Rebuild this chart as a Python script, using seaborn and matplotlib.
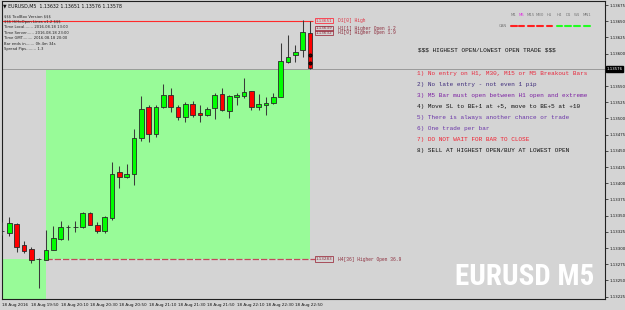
import numpy as np
import pandas as pd
import matplotlib
matplotlib.use("Agg")
import matplotlib.pyplot as plt
import matplotlib.transforms as mtransforms
from matplotlib.patches import Rectangle
from matplotlib.lines import Line2D
from matplotlib import font_manager
import seaborn as sns

# ---------------- data ----------------
bar_start = "2016-08-18 19:30"
opens  = [1.13326, 1.13324, 1.13337, 1.13304, 1.13299, 1.13283, 1.13282, 1.13297, 1.13314, 1.13332,
          1.13332, 1.13332, 1.13354, 1.13336, 1.13327, 1.13346, 1.13417, 1.13409, 1.13415, 1.13470,
          1.13517, 1.13476, 1.13518, 1.13536, 1.13518, 1.13502, 1.13522, 1.13508, 1.13506, 1.13516,
          1.13537, 1.13512, 1.13533, 1.13535, 1.13542, 1.13518, 1.13520, 1.13524, 1.13533, 1.13587,
          1.13598, 1.13606, 1.13632]
highs  = [1.13340, 1.13348, 1.13338, 1.13311, 1.13301, 1.13284, 1.13328, 1.13334, 1.13342, 1.13336,
          1.13342, 1.13356, 1.13355, 1.13341, 1.13349, 1.13433, 1.13427, 1.13429, 1.13484, 1.13534,
          1.13520, 1.13520, 1.13553, 1.13547, 1.13521, 1.13526, 1.13527, 1.13521, 1.13518, 1.13539,
          1.13547, 1.13536, 1.13539, 1.13563, 1.13543, 1.13537, 1.13533, 1.13540, 1.13616, 1.13629,
          1.13613, 1.13652, 1.13651]
lows   = [1.13320, 1.13318, 1.13294, 1.13292, 1.13277, 1.13238, 1.13282, 1.13297, 1.13312, 1.13312,
          1.13325, 1.13331, 1.13335, 1.13323, 1.13323, 1.13343, 1.13392, 1.13408, 1.13397, 1.13465,
          1.13464, 1.13472, 1.13516, 1.13510, 1.13498, 1.13495, 1.13502, 1.13495, 1.13503, 1.13499,
          1.13512, 1.13500, 1.13521, 1.13531, 1.13513, 1.13513, 1.13506, 1.13522, 1.13533, 1.13585,
          1.13587, 1.13595, 1.13576]
closes = [1.13326, 1.13338, 1.13301, 1.13296, 1.13282, 1.13283, 1.13297, 1.13315, 1.13332, 1.13332,
          1.13332, 1.13354, 1.13335, 1.13327, 1.13348, 1.13415, 1.13409, 1.13415, 1.13470, 1.13514,
          1.13476, 1.13518, 1.13536, 1.13518, 1.13502, 1.13522, 1.13506, 1.13506, 1.13514, 1.13536,
          1.13513, 1.13534, 1.13536, 1.13541, 1.13518, 1.13522, 1.13524, 1.13533, 1.13588, 1.13595,
          1.13603, 1.13633, 1.13578]

bid = 1.13576
d1_high = 1.13651
h1_open_prev = 1.13639
h1_open_cur = 1.13632
h4_open = 1.13283
h4_open_bar = 6
arrow_prices = [1.13598, 1.13585]

price_ticks = [1.13675, 1.13650, 1.13625, 1.13600, 1.13550, 1.13525, 1.13500, 1.13475,
               1.13450, 1.13425, 1.13400, 1.13375, 1.13350, 1.13325, 1.13300, 1.13275,
               1.13250, 1.13225]
time_tick_bars = [0, 4, 8, 12, 16, 20, 24, 28, 32, 36, 40]

title_line = "\u25BC EURUSD,M5  1.13632 1.13651 1.13576 1.13578"
info_lines = ["$$$ ToolBox Version $$$",
              "$$$ HiHoOpen Lines v1.2 $$$",
              "Time Local....... 2016.08.18 13:00",
              "Time Server...... 2016.08.18 23:00",
              "Time GMT........ 2016.08.18 20:00",
              "Bar ends in....... 0h 4m 34s",
              "Spread Pips........ 1.3"]
header = "$$$ HIGHEST OPEN/LOWEST OPEN TRADE $$$"
rules = ["1) No entry on H1, M30, M15 or M5 Breakout Bars",
         "2) No late entry - not even 1 pip",
         "3) M5 Bar must open between H1 open and extreme",
         "4) Move SL to BE+1 at +5, move to BE+5 at +10",
         "5) There is always another chance or trade",
         "6) One trade per bar",
         "7) DO NOT WAIT FOR BAR TO CLOSE",
         "8) SELL AT HIGHEST OPEN/BUY AT LOWEST OPEN"]
rule_colors = ["#e8283c", "#3d2b7a", "#7b1fa2", "#111111", "#6a35a8", "#6a35a8", "#f02030", "#111111"]
tf_labels = ["M1", "M5", "M15", "M30", "H1", "H4", "D1", "W1", "MN1"]
tf_trend = [-1, -1, -1, -1, -1, 1, 1, 1, 1]
level_labels = [(d1_high, "1.13651", "D1[0] High"),
                (h1_open_prev, "1.13639", "H1[1] Higher Open 1.2"),
                (h1_open_cur, "1.13632", "H1[0] Higher Open 1.9"),
                (h4_open, "1.13283", "H4[36] Higher Open 36.9")]

# ---------------- style ----------------
sns.set_style("white")
BG = "#d4d4d4"
plt.rcParams["font.family"] = ["DejaVu Sans"]
plt.rcParams["text.parse_math"] = False

W, H = 625, 310
fig = plt.figure(figsize=(W / 100, H / 100), dpi=100, facecolor=BG)
ax = fig.add_axes([2 / W, 11 / H, 603 / W, (H - 0.5 - 11) / H])
ax.set_facecolor(BG)

def fx(px):
    return px / W

def fy(py):
    return 1 - py / H

px_per_bar = 7.34
x0_px = 1.6
ax.set_xlim((2 - x0_px) / px_per_bar, (605 - x0_px) / px_per_bar)
p_per_px = 1.5427e-5
ax.set_ylim(1.13675 - (299 - 5) * p_per_px, 1.13675 + (5 - 0.5) * p_per_px)

df = pd.DataFrame({"open": opens, "high": highs, "low": lows, "close": closes})
df["idx"] = np.arange(len(df))
df["time"] = pd.date_range(bar_start, periods=len(df), freq="5min")

# green zones
ax.add_patch(Rectangle((h4_open_bar, h4_open), len(df) - 1 - h4_open_bar, bid - h4_open,
                       facecolor="#98fb98", edgecolor="none", zorder=0))
ax.add_patch(Rectangle((-5, 1.1300), 5 + h4_open_bar, h4_open - 1.1300,
                       facecolor="#98fb98", edgecolor="none", zorder=0))

# bid line
ax.axhline(bid, color="#9a9a9a", lw=0.7, zorder=1)

# levels
last = len(df) - 1
ax.hlines(d1_high, -5, last + 0.45, colors="#ff2a2a", lw=0.8, zorder=2)
ax.hlines(h4_open, h4_open_bar, last + 0.7, colors="#c04a5a", lw=0.9,
          linestyles=(0, (5, 1.6)), zorder=2)

# candles
ax.vlines(df["idx"], df["low"], df["high"], colors="#3a3a3a", lw=0.75, zorder=3)
body_bottom = np.minimum(df["open"], df["close"])
body_h = np.abs(df["close"] - df["open"])
cols = np.where(df["close"] > df["open"], "#00ff00",
                np.where(df["close"] < df["open"], "#ff0000", "#000000"))
ax.bar(df["idx"], np.maximum(body_h, 1e-7), bottom=body_bottom, width=0.62,
       color=cols, edgecolor="#2a2a2a", linewidth=0.6, zorder=4)

sns.scatterplot(x=[last] * len(arrow_prices), y=arrow_prices, ax=ax, marker="o", s=5,
                color="#400000", edgecolor="black", linewidth=0.6, zorder=5, legend=False)

# axes styling
for s in ax.spines.values():
    s.set_color("#202020")
    s.set_linewidth(0.8)
ax.yaxis.tick_right()
ax.set_yticks(price_ticks)
ax.set_yticklabels([f"{t:.5f}" for t in price_ticks])
ax.tick_params(axis="y", labelsize=2.8, length=2, width=0.5, pad=1, colors="#111111")
ax.set_xticks(time_tick_bars)
xl = []
for b in time_tick_bars:
    t = df["time"].iloc[b]
    xl.append("18 Aug 2016" if b == 0 else t.strftime("%d %b %H:%M"))
ax.set_xticklabels(xl)
for lbl in ax.get_xticklabels():
    lbl.set_ha("left")
ax.tick_params(axis="x", labelsize=3.0, length=2, width=0.5, pad=1.2, colors="#111111")
ax.set_xlabel("")
ax.set_ylabel("")

# bid box on right axis
trans = mtransforms.blended_transform_factory(fig.transFigure, ax.transData)
ax.text(fx(606.5), bid, f"{bid:.5f}", transform=trans, fontsize=2.8, color="white",
        va="center", ha="left", clip_on=False, zorder=10,
        bbox=dict(boxstyle="square,pad=0.25", fc="black", ec="black"))

# level labels
mono = ["Liberation Mono", "DejaVu Sans Mono"]
for k, (p, box, txt) in enumerate(level_labels):
    col_box = "#ff3040" if k == 0 else "#a03848"
    col_txt = "#e03040" if k == 0 else "#8b2a3a"
    ax.text(fx(316), p, box, transform=trans, fontsize=3.0, color=col_txt, va="center",
            ha="left", clip_on=False, zorder=10,
            bbox=dict(boxstyle="square,pad=0.15", fc="none", ec=col_box, lw=0.6))
    ax.text(fx(338), p, txt, transform=trans, fontsize=3.3, color=col_txt, va="center",
            ha="left", clip_on=False, zorder=10, family=mono)

# top-left info
fig.text(fx(3), fy(5.5), title_line, fontsize=3.4, va="center", ha="left", color="#111111")
info_y = [16, 21.5, 27, 32.7, 38.3, 44, 49.3]
for t, yy in zip(info_lines, info_y):
    fig.text(fx(4), fy(yy), t, fontsize=2.7, va="center", ha="left", color="#222222", zorder=1)

# rules
fig.text(fx(418), fy(50), header, fontsize=4.35, family=mono,
         va="center", ha="left", color="#111111")
rule_y = [73.3, 84.3, 95.3, 106.3, 117.3, 128.3, 139.3, 150.3]
for t, c, yy in zip(rules, rule_colors, rule_y):
    fig.text(fx(417), fy(yy), t, fontsize=4.35, family=mono,
             va="center", ha="left", color=c)

# timeframe panel
tf_x = [514, 521.5, 531, 540, 549.5, 559.5, 568, 577, 587]
for lab, xx, tr in zip(tf_labels, tf_x, tf_trend):
    fig.text(fx(xx), fy(15), lab, fontsize=2.8, va="center", ha="center",
             color="#e030e0" if lab == "M5" else "#777777")
    fig.add_artist(Line2D([fx(xx - 2.6), fx(xx + 2.6)], [fy(26), fy(26)],
                          transform=fig.transFigure, lw=1.5,
                          color="#ff2020" if tr < 0 else "#20ff20"))
fig.text(fx(502.5), fy(26), "CAN", fontsize=2.8, va="center", ha="center", color="#777777")

# watermark
names = {f.name for f in font_manager.fontManager.ttflist}
wm_font, wm_size = "DejaVu Sans", 15.5
for cand, sz in [("Liberation Sans Narrow", 22.8), ("Roboto Condensed", 21),
                 ("DejaVu Sans Condensed", 18)]:
    if cand in names:
        wm_font, wm_size = cand, sz
        break
fig.text(fx(455), fy(277), "EURUSD M5", family=[wm_font, "DejaVu Sans"], fontsize=wm_size,
         weight="bold", color="white", va="center", ha="left")

fig.savefig("out.png", dpi=100, facecolor=BG)
